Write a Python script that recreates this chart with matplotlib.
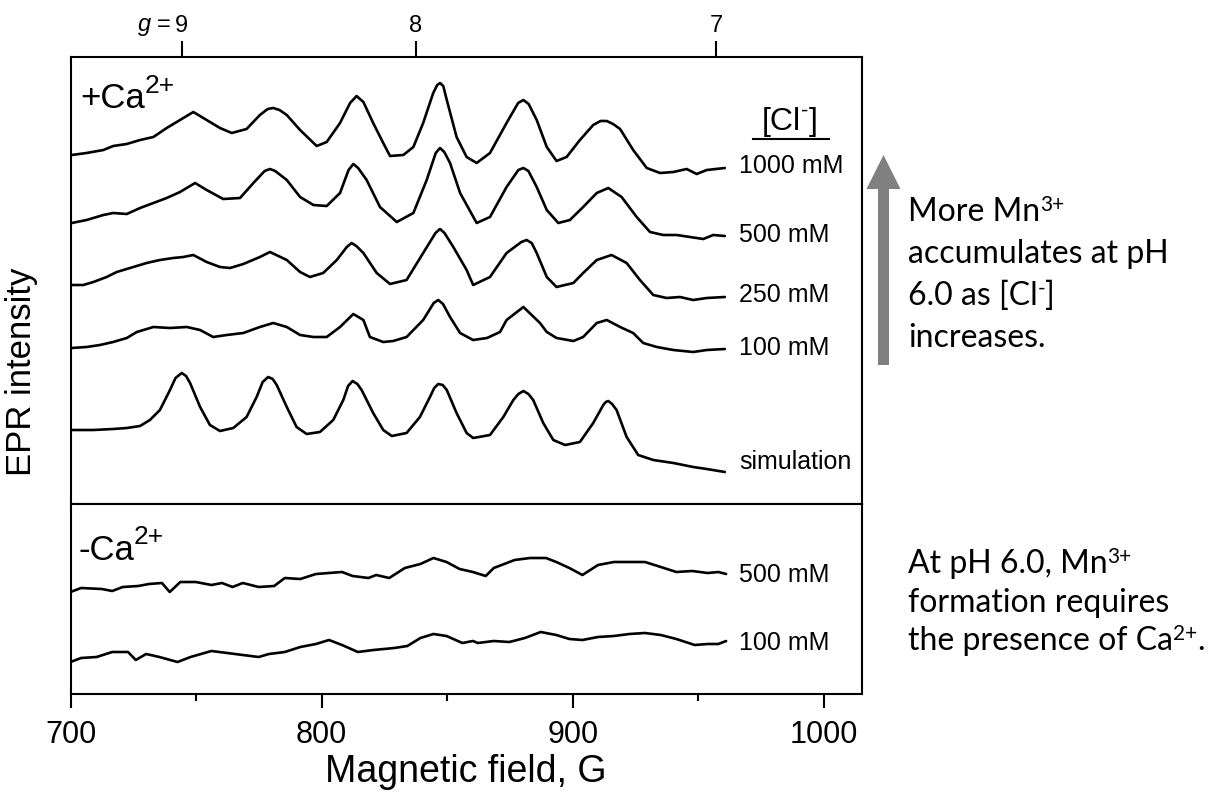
import matplotlib
matplotlib.use("Agg")
import matplotlib.pyplot as plt
from matplotlib.patches import FancyArrow
from matplotlib.lines import Line2D

W, H = 1208, 793

# ---------------- data (field in G, intensity in arbitrary units incl. offset) -------------
field_1000 = [700.5, 706.4, 713.1, 717.0, 722.4, 727.7, 733.0, 738.3, 743.6, 748.9,
              754.2, 759.5, 764.2, 770.1, 775.4, 778.5, 780.7, 783.2, 786.1, 791.4,
              798.0, 802.0, 807.3, 811.3, 813.9, 816.6, 820.5, 824.5, 827.2, 832.5,
              836.5, 840.4, 844.4, 846.0, 847.1, 848.4, 849.8, 853.7, 857.7, 861.7,
              867.0, 873.6, 878.2, 880.3, 882.4, 885.6, 889.6, 893.5, 897.5, 902.8,
              908.1, 911.0, 913.5, 916.0, 918.8, 924.0, 929.4, 934.7, 940.0, 945.3,
              949.3, 953.3, 960.5]
epr_1000 = [34.9, 35.1, 35.4, 35.8, 36.0, 36.4, 36.7, 37.6, 38.4, 39.2,
            38.4, 37.6, 37.1, 37.5, 38.9, 39.5, 39.6, 39.4, 38.9, 37.4,
            35.8, 36.2, 38.1, 40.1, 40.8, 40.2, 38.1, 36.1, 34.8, 34.9,
            35.7, 38.1, 41.1, 41.9, 42.1, 41.8, 40.4, 36.7, 34.7, 34.1,
            35.1, 38.1, 40.1, 40.4, 40.0, 38.4, 35.7, 34.3, 34.7, 36.4,
            37.9, 38.3, 38.3, 38.0, 37.5, 35.4, 33.6, 33.1, 33.2, 33.5,
            33.0, 33.4, 33.6]

field_500 = [700.5, 706.4, 713.1, 717.0, 722.4, 727.7, 733.0, 738.3, 743.6, 749.6,
             754.2, 760.8, 767.5, 772.8, 777.3, 779.4, 781.5, 786.1, 791.4, 796.7,
             802.0, 807.3, 810.7, 812.6, 814.5, 817.9, 823.2, 829.9, 836.5, 841.8,
             845.4, 847.1, 848.8, 851.1, 855.1, 861.7, 867.0, 873.6, 878.3, 880.3,
             882.3, 885.6, 889.6, 894.2, 898.8, 904.1, 909.5, 914.1, 919.4, 925.4,
             930.7, 936.0, 941.3, 946.6, 951.9, 955.9, 960.5]
epr_500 = [28.1, 28.4, 28.9, 29.1, 29.0, 29.6, 30.1, 30.6, 31.2, 32.1,
           31.4, 30.5, 30.6, 32.1, 33.3, 33.5, 33.3, 32.4, 30.7, 29.9,
           29.8, 31.1, 33.4, 34.0, 33.6, 32.4, 29.7, 28.2, 29.1, 32.4,
           35.1, 35.6, 35.2, 34.1, 31.1, 28.1, 28.7, 31.7, 33.4, 33.6,
           33.3, 31.7, 29.4, 28.1, 28.4, 29.7, 31.1, 31.6, 30.7, 28.7,
           27.2, 26.9, 26.9, 26.7, 26.5, 26.9, 26.8]

field_250 = [700.5, 705.1, 709.1, 714.4, 718.4, 723.7, 730.3, 735.6, 740.9, 744.9,
             748.9, 754.2, 759.5, 763.5, 768.8, 775.4, 779.4, 786.1, 791.4, 795.3,
             800.6, 806.0, 810.0, 811.9, 813.8, 816.6, 821.9, 827.2, 833.8, 840.4,
             845.3, 847.1, 848.9, 852.4, 857.7, 860.3, 867.0, 873.6, 879.5, 881.6,
             883.6, 885.6, 889.6, 893.5, 900.2, 904.1, 909.5, 915.4, 921.4, 926.7,
             932.0, 937.3, 942.6, 947.9, 953.3, 960.5]
epr_250 = [21.9, 21.9, 22.2, 22.7, 23.2, 23.6, 24.1, 24.4, 24.6, 24.7,
           24.9, 24.2, 23.7, 23.6, 24.0, 24.7, 25.2, 24.4, 23.2, 22.7,
           23.1, 24.4, 25.7, 26.1, 25.8, 25.1, 23.1, 22.0, 22.4, 25.1,
           27.1, 27.5, 27.1, 25.7, 23.4, 21.9, 22.7, 25.1, 26.2, 26.4,
           26.1, 25.1, 22.7, 21.7, 22.1, 23.1, 24.4, 24.9, 24.1, 22.4,
           20.9, 20.6, 20.7, 20.4, 20.6, 20.7]

field_100 = [700.5, 706.4, 711.7, 717.0, 722.4, 726.4, 733.0, 739.6, 746.3, 751.6,
             756.8, 762.2, 768.8, 775.4, 780.7, 786.1, 791.4, 796.7, 802.0, 807.3,
             812.6, 816.6, 819.2, 824.5, 828.5, 833.8, 840.4, 844.6, 846.4, 848.3,
             851.1, 855.1, 860.3, 865.8, 871.0, 873.6, 880.3, 886.9, 889.6, 893.5,
             900.2, 904.1, 909.5, 913.5, 918.8, 924.0, 928.0, 933.4, 940.0, 947.9,
             953.3, 960.5]
epr_100 = [15.6, 15.7, 15.9, 16.2, 16.6, 17.2, 17.7, 17.6, 17.7, 17.4,
           16.7, 16.9, 17.1, 17.7, 18.1, 17.7, 16.9, 16.7, 16.7, 17.7,
           19.0, 18.4, 16.7, 16.2, 16.3, 16.7, 18.4, 20.1, 20.4, 20.0,
           18.7, 17.1, 16.4, 16.6, 17.2, 18.4, 19.7, 18.1, 17.2, 16.6,
           16.3, 16.7, 18.1, 18.4, 17.7, 17.1, 16.1, 15.7, 15.4, 15.2,
           15.4, 15.5]

field_sim = [700.5, 709.1, 717.0, 722.4, 727.7, 731.6, 735.6, 739.6, 741.8, 744.3,
             746.0, 747.6, 751.6, 755.5, 759.5, 764.8, 770.1, 774.1, 776.5, 778.7,
             780.5, 782.1, 786.1, 790.0, 794.0, 799.3, 804.6, 808.6, 810.5, 812.3,
             814.2, 815.9, 820.5, 824.5, 827.9, 833.8, 839.1, 843.1, 844.8, 846.4,
             848.2, 849.8, 853.7, 857.7, 860.3, 867.0, 872.3, 876.3, 878.3, 880.3,
             882.3, 884.2, 888.2, 892.2, 896.9, 902.8, 908.1, 912.1, 913.1, 914.1,
             915.6, 917.4, 921.4, 926.0, 932.0, 940.0, 947.9, 953.3, 960.5]
epr_sim = [7.4, 7.4, 7.5, 7.6, 7.8, 8.4, 9.4, 11.4, 12.6, 13.1,
           12.8, 12.1, 9.7, 7.9, 7.3, 7.6, 8.7, 10.7, 12.2, 12.7,
           12.5, 11.9, 9.7, 7.7, 7.0, 7.2, 8.4, 10.4, 11.8, 12.3,
           12.0, 11.4, 9.1, 7.4, 6.8, 7.1, 8.7, 10.7, 11.6, 12.0,
           11.9, 11.4, 9.1, 7.1, 6.6, 6.9, 8.7, 10.4, 11.0, 11.3,
           11.0, 10.4, 8.1, 6.4, 5.9, 6.2, 8.1, 9.9, 10.2, 10.3,
           10.0, 9.4, 6.7, 4.9, 4.4, 4.1, 3.7, 3.5, 3.2]

# -Ca2+ panel
field_noca_500 = [700.0, 704.2, 712.5, 716.6, 720.8, 727.0, 731.2, 736.4, 739.5, 743.7,
                  749.9, 756.1, 760.3, 764.5, 768.6, 774.9, 781.1, 785.3, 791.5, 797.7,
                  808.1, 812.3, 818.6, 821.7, 826.9, 833.1, 839.3, 844.5, 849.7, 854.9,
                  860.2, 865.3, 868.5, 876.8, 883.0, 889.3, 893.4, 898.6, 903.8, 910.0,
                  916.3, 922.5, 928.7, 935.0, 941.2, 947.5, 953.7, 957.9, 961.0]
epr_noca_500 = [10.2, 10.6, 10.5, 10.3, 10.7, 10.8, 11.0, 11.1, 10.2, 11.2,
                11.2, 10.9, 11.1, 10.7, 11.1, 10.7, 10.8, 11.6, 11.5, 12.0,
                12.2, 11.8, 11.6, 11.9, 11.6, 12.6, 13.0, 13.6, 13.2, 12.5,
                12.2, 11.8, 12.6, 13.4, 13.6, 13.6, 13.2, 12.6, 11.9, 12.9,
                13.2, 13.2, 13.2, 12.7, 12.2, 12.3, 12.1, 12.2, 12.0]

field_noca_100 = [700.0, 704.2, 710.4, 716.6, 722.9, 726.0, 730.1, 735.4, 742.6, 747.8,
                  756.1, 762.4, 768.6, 774.9, 779.0, 785.3, 791.5, 797.7, 802.9, 808.1,
                  814.4, 820.6, 828.9, 834.1, 839.3, 844.5, 849.7, 856.0, 860.2, 862.2,
                  868.5, 874.7, 880.9, 887.2, 893.4, 898.6, 903.8, 910.0, 916.3, 922.5,
                  928.7, 935.0, 941.2, 948.5, 953.7, 957.9, 961.0]
epr_noca_100 = [3.2, 3.6, 3.7, 4.2, 4.2, 3.4, 4.0, 3.7, 3.2, 3.7,
                4.3, 4.1, 3.9, 3.7, 4.0, 4.2, 4.7, 5.0, 5.4, 4.9,
                4.2, 4.4, 4.6, 4.8, 5.6, 6.0, 5.8, 5.1, 5.3, 5.1,
                5.3, 5.2, 5.6, 6.2, 5.9, 5.5, 5.4, 5.7, 5.8, 6.0,
                6.1, 5.9, 5.5, 4.9, 5.0, 5.0, 5.3]

top_labels = ["1000 mM", "500 mM", "250 mM", "100 mM", "simulation"]
bottom_labels = ["500 mM", "100 mM"]

x_major = [700, 800, 900, 1000]
x_minor = [750, 850, 950]
g_ticks = [9, 8, 7]
mw_freq_GHz = 9.376          # B(G) = 714.48 * nu(GHz) / g
x_limits = (700, 1015.1)
top_ylim = (0, 44.7)
bot_ylim = (0, 19.0)

# ---------------- styling ----------------
plt.rcParams['font.family'] = ['Liberation Sans', 'DejaVu Sans']
plt.rcParams['mathtext.fontset'] = 'custom'
plt.rcParams['mathtext.rm'] = 'Liberation Sans'
plt.rcParams['mathtext.it'] = 'Liberation Sans:italic'
plt.rcParams['mathtext.bf'] = 'Liberation Sans:bold'
plt.rcParams['mathtext.default'] = 'regular'

LFONT = ['Liberation Sans', 'DejaVu Sans']
RFONT = ['Lato', 'DejaVu Sans']

fig = plt.figure(figsize=(W / 100, H / 100), dpi=100)
renderer = fig.canvas.get_renderer()


def fx(x):
    return x / W


def fy(y):
    return 1 - y / H


def runs(x0, yb, parts, size, sup_size, sup_rise, family):
    x = x0
    for txt, sup in parts:
        fs = sup_size if sup else size
        y = yb - sup_rise if sup else yb
        t = fig.text(fx(x), fy(y), txt, fontsize=fs, family=family,
                     ha='left', va='baseline')
        x += t.get_window_extent(renderer=renderer).width


L, R = 70.5, 862
T1, D, B2 = 57, 504, 694
ax_top = fig.add_axes([fx(L), fy(D), fx(R) - fx(L), fy(T1) - fy(D)])
ax_bot = fig.add_axes([fx(L), fy(B2), fx(R) - fx(L), fy(D) - fy(B2)])

LW = 1.9
for f, v in [(field_1000, epr_1000), (field_500, epr_500), (field_250, epr_250),
             (field_100, epr_100), (field_sim, epr_sim)]:
    ax_top.plot(f, v, color='black', lw=LW, solid_joinstyle='round', solid_capstyle='round')
for f, v in [(field_noca_500, epr_noca_500), (field_noca_100, epr_noca_100)]:
    ax_bot.plot(f, v, color='black', lw=LW, solid_joinstyle='round', solid_capstyle='round')

for ax, yl in [(ax_top, top_ylim), (ax_bot, bot_ylim)]:
    ax.set_xlim(*x_limits)
    ax.set_ylim(*yl)
    ax.set_yticks([])
    for s in ax.spines.values():
        s.set_linewidth(1.5)

# top axis: g values
g_pos = [714.48 * mw_freq_GHz / g for g in g_ticks]
ax_top.xaxis.set_ticks_position('top')
ax_top.set_xticks(g_pos)
ax_top.set_xticklabels([str(g) for g in g_ticks])
ax_top.tick_params(axis='x', which='major', direction='out', length=11.5, width=1.5,
                   pad=3, labelsize=17)
ax_top.minorticks_off()

# bottom axis
ax_bot.xaxis.set_ticks_position('bottom')
ax_bot.set_xticks(x_major)
ax_bot.set_xticks(x_minor, minor=True)
ax_bot.set_xticklabels([str(v) for v in x_major])
ax_bot.tick_params(axis='x', which='major', direction='out', length=10, width=1.5,
                   pad=9, labelsize=22)
ax_bot.tick_params(axis='x', which='minor', direction='out', length=5, width=1.5)

# axis titles
fig.text(fx(466), fy(772), 'Magnetic field, G', fontsize=27, family=LFONT,
         ha='center', va='center')
fig.text(fx(22), fy(372), 'EPR intensity', fontsize=25, family=LFONT,
         ha='center', va='center', rotation=90)
fig.text(fx(171), fy(27), r'$\mathit{g}$ =', fontsize=17, ha='right', va='center')

# panel labels
runs(80, 108, [("+Ca", False), ("2+", True)], 25, 19, 15, LFONT)
runs(78, 560, [("-Ca", False), ("2+", True)], 25, 19, 16, LFONT)
runs(762, 130, [("[Cl", False), ("-", True), ("]", False)], 23, 16, 13, LFONT)
fig.add_artist(Line2D([fx(753), fx(829)], [fy(139), fy(139)], transform=fig.transFigure,
                      color='black', lw=1.5))

top_label_y = [166, 235, 295, 348, 462]
for lab, yy in zip(top_labels, top_label_y):
    fig.text(fx(739), fy(yy), lab, fontsize=18, ha='left', va='center')
bottom_label_y = [575, 643]
for lab, yy in zip(bottom_labels, bottom_label_y):
    fig.text(fx(739), fy(yy), lab, fontsize=18, ha='left', va='center')

# arrow
fig.add_artist(FancyArrow(fx(883.5), fy(365), 0, fy(155) - fy(365),
                          width=11 / W, head_width=34 / W, head_length=34 / H,
                          length_includes_head=True, transform=fig.transFigure,
                          color='#808080', lw=0))

# annotation texts with superscripts
RS, SS, RISE = 23, 15, 10
runs(908, 221, [("More Mn", False), ("3+", True)], RS, SS, RISE, RFONT)
runs(908, 263, [("accumulates at pH", False)], RS, SS, RISE, RFONT)
runs(908, 305, [("6.0 as [Cl", False), ("-", True), ("]", False)], RS, SS, RISE, RFONT)
runs(908, 347, [("increases.", False)], RS, SS, RISE, RFONT)

runs(908, 573, [("At pH 6.0, Mn", False), ("3+", True)], RS, SS, RISE, RFONT)
runs(908, 612, [("formation requires", False)], RS, SS, RISE, RFONT)
runs(908, 650, [("the presence of Ca", False), ("2+", True), (".", False)], RS, SS, RISE, RFONT)

fig.savefig('out.png', dpi=100)
